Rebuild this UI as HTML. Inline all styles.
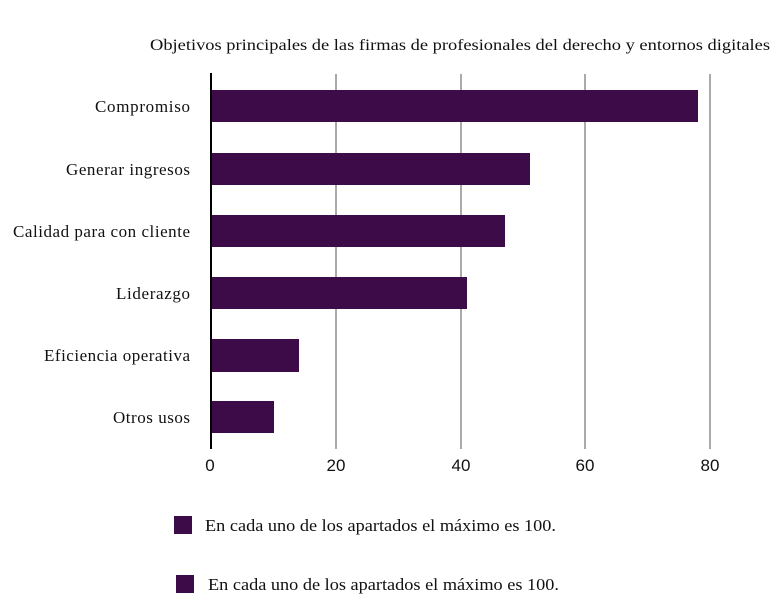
<!DOCTYPE html>
<html><head><meta charset="utf-8"><style>
body{margin:0;background:#fff;}
svg{display:block}
</style></head><body>
<svg width="784" height="600" xmlns="http://www.w3.org/2000/svg">
<rect width="784" height="600" fill="#fff"/>
<text x="150" y="50" font-family="Liberation Serif, serif" font-size="16" fill="#111" textLength="620" lengthAdjust="spacingAndGlyphs">Objetivos principales de las firmas de profesionales del derecho y entornos  digitales</text>
<g stroke="#aaa" stroke-width="2">
<line x1="336" y1="74" x2="336" y2="449"/>
<line x1="461" y1="74" x2="461" y2="449"/>
<line x1="585" y1="74" x2="585" y2="449"/>
<line x1="710" y1="74" x2="710" y2="449"/>
</g>
<g fill="#3d0c48">
<rect x="211" y="90" width="487" height="32"/>
<rect x="211" y="153" width="319" height="32"/>
<rect x="211" y="215" width="294" height="32"/>
<rect x="211" y="277" width="256" height="32"/>
<rect x="211" y="339" width="88" height="33"/>
<rect x="211" y="401" width="63" height="32"/>
</g>
<line x1="211" y1="73" x2="211" y2="449" stroke="#000" stroke-width="2"/>
<g font-family="Liberation Serif, serif" font-size="17" fill="#111" lengthAdjust="spacingAndGlyphs">
<text x="95" y="112" textLength="95">Compromiso</text>
<text x="66" y="175" textLength="124">Generar ingresos</text>
<text x="13" y="237" textLength="177">Calidad para con cliente</text>
<text x="116" y="299" textLength="74">Liderazgo</text>
<text x="44" y="361" textLength="146">Eficiencia operativa</text>
<text x="113" y="423" textLength="77">Otros usos</text>
</g>
<g font-family="Liberation Sans, sans-serif" font-size="17" fill="#111" text-anchor="middle">
<text x="210" y="471">0</text>
<text x="336" y="471">20</text>
<text x="461" y="471">40</text>
<text x="585" y="471">60</text>
<text x="710" y="471">80</text>
</g>
<rect x="174" y="516" width="18" height="18" fill="#3d0c48"/>
<text x="205" y="531" font-family="Liberation Serif, serif" font-size="17" fill="#111" textLength="351" lengthAdjust="spacingAndGlyphs">En cada uno de los apartados el máximo es 100.</text>
<rect x="176" y="575" width="18" height="18" fill="#3d0c48"/>
<text x="208" y="590" font-family="Liberation Serif, serif" font-size="17" fill="#111" textLength="351" lengthAdjust="spacingAndGlyphs">En cada uno de los apartados el máximo es 100.</text>
</svg>
</body></html>
